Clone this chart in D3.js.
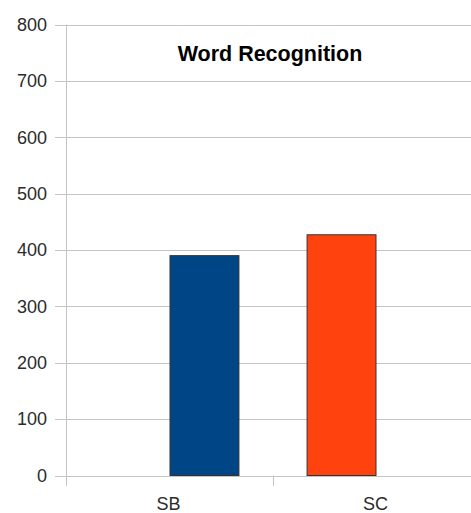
<!DOCTYPE html>
<html><head><meta charset="utf-8">
<script src="https://cdn.jsdelivr.net/npm/d3@7"></script>
<style>body{margin:0;background:#fff}svg{display:block}</style>
</head><body>
<svg id="c" width="471" height="513"></svg>
<script>
const categories = ["SB", "SC"];
const seriesNames = ["SC", "SB"]; // slot order inside each category
const values = [390, 427];
const colors = ["#004586", "#ff420e"];
const yTicks = [0, 100, 200, 300, 400, 500, 600, 700, 800];
const title = "Word Recognition";

const svg = d3.select("#c");
const plotLeft = 66, plotRight = 480, plotTop = 24.5, plotBottom = 475.5;

const x = d3.scaleBand().domain(categories).range([plotLeft, plotRight]).paddingInner(0).paddingOuter(0);
const inner = d3.scaleBand().domain(seriesNames).range([0, x.bandwidth()]).paddingOuter(0.48).paddingInner(0);
const y = d3.scaleLinear().domain([0, 800]).range([plotBottom, plotTop]);

// gridlines
svg.append("g").selectAll("line").data(yTicks).join("line")
  .attr("x1", 55).attr("x2", 471)
  .attr("y1", d => Math.round(y(d)) + 0.5).attr("y2", d => Math.round(y(d)) + 0.5)
  .attr("stroke", "#c4c4c4").attr("stroke-width", 1);

// y axis line
svg.append("line").attr("x1", plotLeft + 0.5).attr("x2", plotLeft + 0.5)
  .attr("y1", plotTop).attr("y2", 486).attr("stroke", "#c4c4c4");

// category separator ticks
svg.append("g").selectAll("line").data(categories.slice(1)).join("line")
  .attr("x1", d => Math.round(x(d)) + 0.5).attr("x2", d => Math.round(x(d)) + 0.5)
  .attr("y1", plotBottom).attr("y2", 486).attr("stroke", "#c4c4c4");

// y labels
svg.append("g").selectAll("text").data(yTicks).join("text")
  .attr("x", 47).attr("y", d => y(d)).attr("dy", "0.35em")
  .attr("text-anchor", "end")
  .attr("font-family", "Liberation Sans, Arial, sans-serif").attr("font-size", 18)
  .attr("fill", "#2b2b2b").text(d => d);

// x labels
svg.append("g").selectAll("text").data(categories).join("text")
  .attr("x", d => x(d) + x.bandwidth() / 2 - 1).attr("y", 510)
  .attr("text-anchor", "middle")
  .attr("font-family", "Liberation Sans, Arial, sans-serif").attr("font-size", 18)
  .attr("fill", "#2b2b2b").text(d => d);

// bars
svg.append("g").selectAll("rect").data(categories).join("rect")
  .attr("x", d => x(d) + inner(d) + 0.5)
  .attr("width", inner.bandwidth() - 1)
  .attr("y", (d, i) => y(values[i]))
  .attr("height", (d, i) => plotBottom - y(values[i]))
  .attr("fill", (d, i) => colors[i])
  .attr("stroke", "#333").attr("stroke-width", 1);

// title
svg.append("text").attr("x", 270).attr("y", 61)
  .attr("text-anchor", "middle")
  .attr("font-family", "Liberation Sans, Arial, sans-serif").attr("font-size", 21.5)
  .attr("font-weight", "bold").attr("fill", "#000").text(title);
</script>
</body></html>
